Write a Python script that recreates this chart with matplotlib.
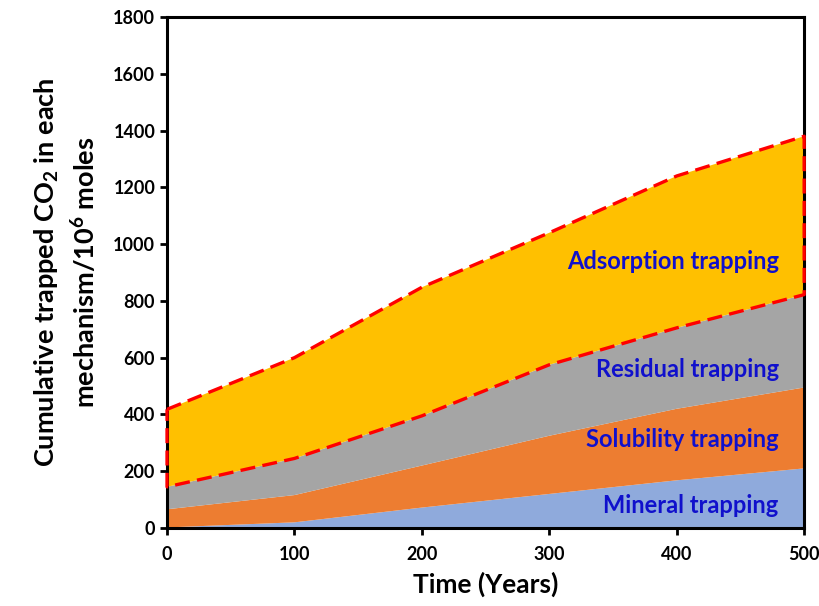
import matplotlib
matplotlib.use("Agg")
import matplotlib.pyplot as plt
import numpy as np

plt.rcParams['font.family'] = ['Lato', 'DejaVu Sans']
plt.rcParams['font.weight'] = 'bold'
plt.rcParams['mathtext.default'] = 'regular'

# time (years) and amount trapped per mechanism (10^6 moles)
years = [0, 100, 200, 300, 400, 500]
mineral = [2, 20, 72, 120, 168, 210]
solubility = [64, 96, 148, 205, 252, 285]
residual = [79, 129, 175, 250, 285, 327]
adsorption = [273, 355, 453, 465, 535, 558]

labels = ['Mineral trapping', 'Solubility trapping', 'Residual trapping', 'Adsorption trapping']
colors = ['#8FAADC', '#ED7D31', '#A5A5A5', '#FFC000']
label_y = [81, 310, 560, 937]

fig = plt.figure(figsize=(8.2, 6.06), dpi=100)
ax = fig.add_axes([0.2037, 0.1287, 0.7770, 0.8433])

ax.stackplot(years, mineral, solubility, residual, adsorption, colors=colors, lw=0)

# red dashed outline round the adsorption band
res_top = np.array(mineral) + np.array(solubility) + np.array(residual)
ads_top = res_top + np.array(adsorption)
ox = years + years[::-1] + [years[0]]
oy = list(ads_top) + list(res_top[::-1]) + [ads_top[0]]
ax.plot(ox, oy, color='#FF0000', lw=2.4, dashes=(4.5, 2.2), zorder=5, clip_on=False)

for lab, yy in zip(labels, label_y):
    ax.text(480, yy, lab, color='#1010CC', fontsize=17, fontweight='bold',
            ha='right', va='center')

ax.set_xlim(0, 500)
ax.set_ylim(0, 1800)
ax.set_xticks(range(0, 501, 100))
ax.set_yticks(range(0, 1801, 200))
ax.tick_params(labelsize=13, width=2, length=5, direction='out')
ax.tick_params(axis='x', pad=8)
for s in ax.spines.values():
    s.set_linewidth(2.2)
    s.set_zorder(4)

ax.set_xlabel('Time (Years)', fontsize=19, fontweight='bold', labelpad=6)
ax.set_ylabel('Cumulative trapped CO$_2$ in each\nmechanism/10$^6$ moles',
              fontsize=19.5, fontweight='bold', labelpad=10, linespacing=1.35)

fig.savefig('out.png', dpi=100)
